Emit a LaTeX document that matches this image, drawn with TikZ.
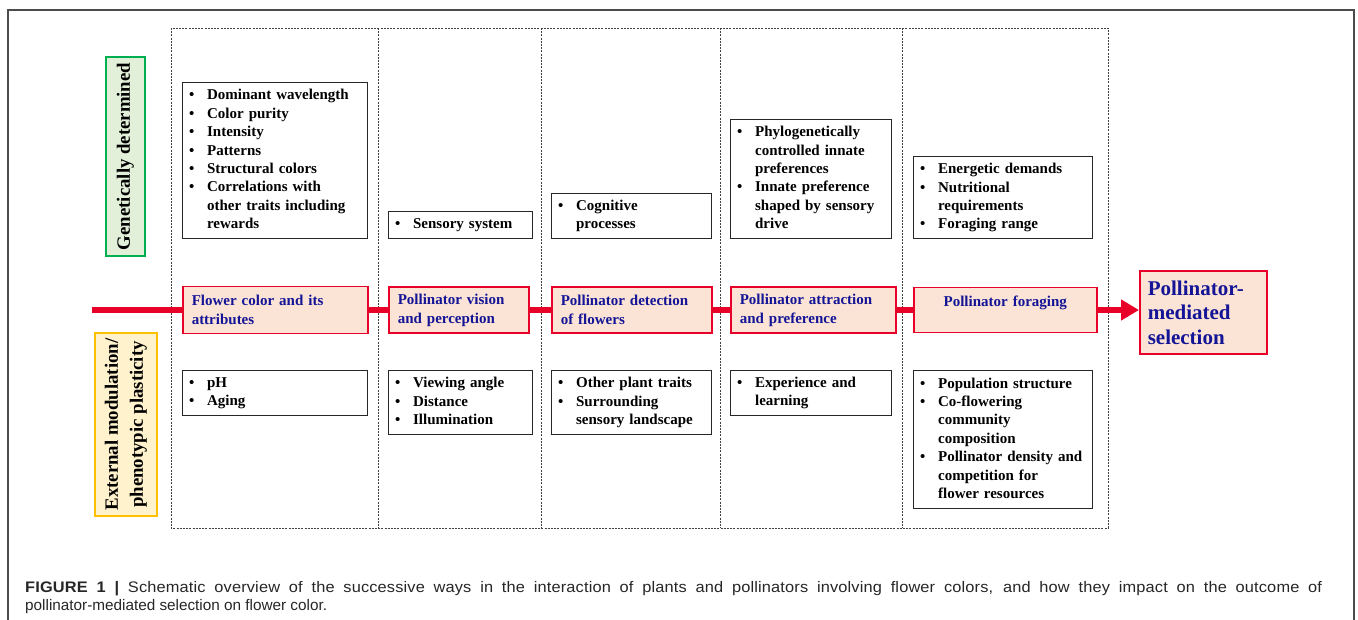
\documentclass[tikz,border=0pt]{standalone}
\usepackage{fontspec}
\setmainfont{Liberation Serif}
\newfontfamily\capfont{Liberation Sans}
\newfontfamily\capwide[FakeStretch=1.07,LetterSpace=1]{Liberation Sans}
\usetikzlibrary{arrows.meta}
\definecolor{myred}{RGB}{232,0,40}
\definecolor{mypink}{RGB}{251,228,213}
\definecolor{myblue}{RGB}{20,20,150}
\definecolor{mygreen}{RGB}{0,176,80}
\definecolor{mygreenfill}{RGB}{226,240,217}
\definecolor{myyellow}{RGB}{255,192,0}
\definecolor{myyellowfill}{RGB}{255,242,204}
\newcommand{\lst}[1]{\begin{tabular}{@{}p{18pt}@{}l@{}}#1\end{tabular}}
\newcommand{\bu}{\textbullet}
\tikzset{
  frame/.style={draw=black!70, line width=1.2pt},
  colline/.style={draw=black!75, line width=0.8pt, dash pattern=on 2pt off 1.2pt},
  listbox/.style={draw=black!85, line width=1.2pt, fill=white, anchor=north west,
    inner xsep=6.5pt, inner ysep=0pt, align=left,
    font=\fontsize{15}{18.4}\selectfont\bfseries},
  stage/.style={draw=myred, line width=1.5pt, fill=mypink, text=myblue, anchor=west,
    inner xsep=9pt, inner ysep=0pt, align=left,
    font=\fontsize{15}{19}\selectfont\bfseries},
  flow/.style={draw=myred, line width=6pt},
  sidebox/.style={rotate=90, line width=1.3pt, inner sep=0pt, align=center,
    font=\fontsize{18.8}{25}\selectfont\bfseries},
}
\begin{document}
\begin{tikzpicture}[x=1pt,y=-1pt]
\useasboundingbox (0,0) rectangle (1358,619);
% outer frame
\draw[frame] (8,625) -- (8,10) -- (1354,10) -- (1354,625);
% dashed columns
\draw[colline] (171,28) rectangle (1108,528);
\foreach \cx in {378,541,720,902}{\draw[colline] (\cx,28) -- (\cx,528);}
% side labels
\node[sidebox, draw=mygreen, fill=mygreenfill, minimum width=199pt, minimum height=39pt] (gen) at (125.5,156.5) {Genetically determined};
\node[sidebox, draw=myyellow, fill=myyellowfill, minimum width=183pt, minimum height=62pt] (ext) at (126,424.5) {External modulation/\\phenotypic plasticity};
% flow line and stage boxes
\coordinate (start) at (92,310);
\node[stage, minimum width=185pt, minimum height=47pt, text width=167pt] (p1) at (182,310) {Flower color and its\\attributes};
\node[stage, minimum width=140pt, minimum height=46pt, text width=122pt] (p2) at (388,310) {Pollinator vision\\and perception};
\node[stage, minimum width=160pt, minimum height=46pt, text width=142pt] (p3) at (551,310) {Pollinator detection\\of flowers};
\node[stage, minimum width=165pt, minimum height=46pt, text width=147pt] (p4) at (730,310) {Pollinator attraction\\and preference};
\node[stage, minimum width=183pt, minimum height=45pt, text width=165pt, align=center] (p5) at (913,310) {Pollinator foraging\\[-8pt]\strut};
\node[stage, minimum width=127pt, minimum height=83pt, text width=111pt, inner xsep=8pt,
  font=\fontsize{21}{24.5}\selectfont\bfseries] (fin) at (1139,312.5) {Pollinator-\\mediated\\selection};
\draw[flow] (start) -- (p1.west);
\draw[flow] (p1.east) -- (p2.west);
\draw[flow] (p2.east) -- (p3.west);
\draw[flow] (p3.east) -- (p4.west);
\draw[flow] (p4.east) -- (p5.west);
\draw[flow, -{Triangle[length=18pt,width=20pt]}] (p5.east) -- (p5.east -| fin.west);
% genetic boxes (top)
\node[listbox, minimum width=185pt, minimum height=156pt, text width=172pt] (ta) at (182,82) {\lst{\bu & Dominant wavelength\\ \bu & Color purity\\ \bu & Intensity\\ \bu & Patterns\\ \bu & Structural colors\\ \bu & Correlations with\\ & other traits including\\ & rewards}};
\node[listbox, minimum width=144pt, minimum height=27pt, text width=131pt] (tb) at (388,211) {\lst{\bu & Sensory system}};
\node[listbox, minimum width=160pt, minimum height=45pt, text width=147pt] (tc) at (551,193) {\lst{\bu & Cognitive\\ & processes}};
\node[listbox, minimum width=161pt, minimum height=119pt, text width=148pt] (td) at (730,119) {\lst{\bu & Phylogenetically\\ & controlled innate\\ & preferences\\ \bu & Innate preference\\ & shaped by sensory\\ & drive}};
\node[listbox, minimum width=179pt, minimum height=82pt, text width=166pt] (te) at (913,156) {\lst{\bu & Energetic demands\\ \bu & Nutritional\\ & requirements\\ \bu & Foraging range}};
% external boxes (bottom)
\node[listbox, minimum width=185pt, minimum height=45pt, text width=172pt] (ba) at (182,370) {\lst{\bu & pH\\ \bu & Aging}};
\node[listbox, minimum width=144pt, minimum height=64pt, text width=131pt] (bb) at (388,370) {\lst{\bu & Viewing angle\\ \bu & Distance\\ \bu & Illumination}};
\node[listbox, minimum width=160pt, minimum height=64pt, text width=147pt] (bc) at (551,370) {\lst{\bu & Other plant traits\\ \bu & Surrounding\\ & sensory landscape}};
\node[listbox, minimum width=161pt, minimum height=45pt, text width=148pt] (bd) at (730,370) {\lst{\bu & Experience and\\ & learning}};
\node[listbox, minimum width=179pt, minimum height=138pt, text width=166pt] (be) at (913,370) {\lst{\bu & Population structure\\ \bu & Co-flowering\\ & community\\ & composition\\ \bu & Pollinator density and\\ & competition for\\ & flower resources}};
% caption
\node[anchor=north west, inner sep=0pt, align=justify, text width=1297pt, text=black!85,
  font=\fontsize{15.3}{18.4}\selectfont] (cap) at (25,581)
  {\capwide{\bfseries FIGURE 1 |} Schematic overview of the successive ways in the interaction of plants and pollinators involving flower colors, and how they impact on the outcome of\linebreak \capfont pollinator-mediated selection on flower color.};
\end{tikzpicture}
\end{document}
